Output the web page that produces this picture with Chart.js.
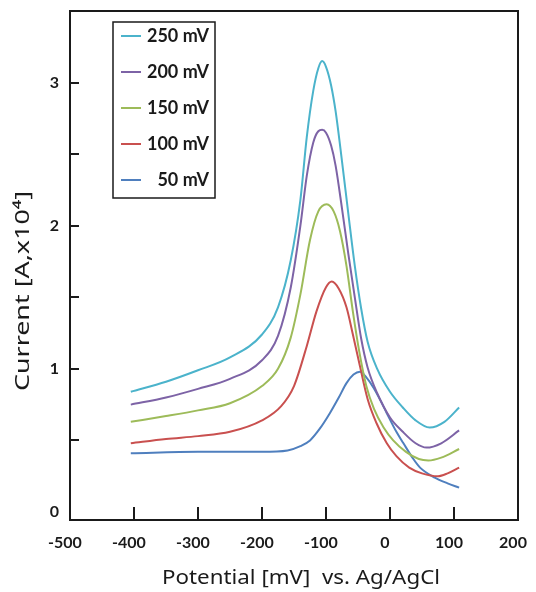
<!DOCTYPE html>
<html>
<head>
<meta charset="utf-8">
<script src="https://cdn.jsdelivr.net/npm/chart.js@4.4.1/dist/chart.umd.min.js"></script>
<style>
  html, body { margin: 0; padding: 0; background: #fff; }
</style>
</head>
<body>
<canvas id="chart" width="536" height="592"></canvas>
<script>
// scan rates, in legend order
const labels = ['250 mV', '200 mV', '150 mV', '100 mV', '50 mV'];
const colors = ['#4bb3cb', '#7d63a6', '#9dbb59', '#c9504f', '#4f7fbe'];

// potential [mV] / current [A x10^4]
const pot250 = [-405, -350, -300, -250, -200, -175, -155, -140, -130, -120, -112, -106, -100, -92, -85, -75, -65, -55, -45, -35, -20, 0, 20, 40, 62, 85, 108];
const cur250 = [0.84, 0.91, 0.99, 1.08, 1.24, 1.43, 1.76, 2.18, 2.62, 2.94, 3.10, 3.15, 3.11, 2.98, 2.80, 2.45, 2.08, 1.72, 1.42, 1.19, 1.00, 0.84, 0.73, 0.64, 0.59, 0.63, 0.73];

const pot200 = [-405, -350, -300, -250, -200, -175, -155, -140, -130, -120, -112, -106, -100, -92, -85, -75, -65, -55, -45, -35, -20, 0, 20, 40, 57, 80, 108];
const cur200 = [0.75, 0.80, 0.86, 0.93, 1.06, 1.23, 1.57, 2.00, 2.35, 2.58, 2.66, 2.67, 2.65, 2.56, 2.42, 2.12, 1.80, 1.50, 1.21, 1.01, 0.83, 0.66, 0.56, 0.48, 0.45, 0.48, 0.57];

const pot150 = [-405, -350, -300, -250, -200, -175, -155, -140, -125, -112, -99, -88, -78, -68, -58, -48, -37, -25, -10, 5, 25, 45, 60, 80, 108];
const cur150 = [0.63, 0.67, 0.71, 0.76, 0.88, 1.00, 1.22, 1.52, 1.90, 2.10, 2.15, 2.10, 1.96, 1.72, 1.40, 1.12, 0.88, 0.72, 0.59, 0.50, 0.42, 0.37, 0.36, 0.38, 0.44];

const pot100 = [-405, -350, -300, -250, -200, -170, -150, -130, -115, -100, -91, -80, -68, -58, -47, -35, -21, -5, 10, 30, 50, 75, 90, 108];
const cur100 = [0.48, 0.51, 0.53, 0.56, 0.64, 0.74, 0.88, 1.16, 1.40, 1.57, 1.61, 1.56, 1.43, 1.24, 1.02, 0.79, 0.62, 0.48, 0.39, 0.31, 0.27, 0.25, 0.27, 0.31];

const pot50 = [-405, -300, -200, -160, -140, -125, -110, -94, -80, -68, -57, -47, -37, -26, -15, -5, 10, 21, 35, 47, 70, 90, 108];
const cur50 = [0.41, 0.42, 0.42, 0.43, 0.46, 0.50, 0.58, 0.69, 0.80, 0.90, 0.96, 0.98, 0.94, 0.87, 0.78, 0.69, 0.56, 0.48, 0.38, 0.31, 0.24, 0.20, 0.17];

const xTicks = [-500, -400, -300, -200, -100, 0, 100, 200];
const yTicks = [0, 1, 2, 3];
const xInner = [-400, -300, -200, -100, 0, 100];
const yInner = [0.5, 1, 1.5, 2, 2.5, 3];

const series = [[pot250, cur250], [pot200, cur200], [pot150, cur150], [pot100, cur100], [pot50, cur50]];

const ink = '#1a1a1a';
const tickFont = { family: 'Lato', size: 16, weight: 'bold' };

// draw text stretched to a given width
function wideText(ctx, text, x, y, width) {
  const w = ctx.measureText(text).width;
  ctx.save();
  ctx.translate(x, y);
  ctx.scale(width / w, 1);
  ctx.fillText(text, 0, 0);
  ctx.restore();
}

// frame, inner tick marks, legend box and axis titles
const decor = {
  id: 'decor',
  afterDraw(chart) {
    const ctx = chart.ctx;
    const a = chart.chartArea;
    const xs = chart.scales.x, ys = chart.scales.y;
    ctx.save();
    ctx.strokeStyle = ink;
    ctx.lineWidth = 2;
    ctx.strokeRect(a.left, a.top, a.right - a.left, a.bottom - a.top);

    ctx.beginPath();
    xInner.forEach(v => {
      const px = Math.round(xs.getPixelForValue(v));
      ctx.moveTo(px, a.bottom);
      ctx.lineTo(px, a.bottom - 13);
    });
    yInner.forEach(v => {
      const py = Math.round(ys.getPixelForValue(v));
      ctx.moveTo(a.left, py);
      ctx.lineTo(a.left + 9, py);
    });
    ctx.stroke();

    // legend
    ctx.lineWidth = 1.5;
    ctx.strokeRect(113, 22, 102, 176);
    ctx.font = 'bold 18px Lato';
    ctx.textAlign = 'right';
    ctx.textBaseline = 'middle';
    chart.data.datasets.forEach((ds, i) => {
      const y = 36 + i * 36;
      ctx.strokeStyle = ds.borderColor;
      ctx.lineWidth = 2;
      ctx.beginPath();
      ctx.moveTo(121, y);
      ctx.lineTo(141, y);
      ctx.stroke();
      ctx.fillStyle = ink;
      ctx.fillText(ds.label, 209, y);
    });

    // axis titles
    ctx.fillStyle = ink;
    ctx.font = '20px "Noto Sans"';
    ctx.textAlign = 'center';
    wideText(ctx, 'Potential [mV]  vs. Ag/AgCl', 301, 578, 278);
    ctx.translate(23, 291);
    ctx.rotate(-Math.PI / 2);
    wideText(ctx, 'Current [A,x10\u2074]', 0, 0, 200);
    ctx.restore();
  }
};

function noPad(s) {
  s.paddingLeft = 0;
  s.paddingRight = 0;
  s.paddingTop = 0;
  s.paddingBottom = 0;
}

new Chart(document.getElementById('chart'), {
  type: 'line',
  data: {
    datasets: series.map((s, i) => ({
      label: labels[i],
      data: s[0].map((x, j) => ({ x: x, y: s[1][j] })),
      borderColor: colors[i],
      borderWidth: 2,
      pointRadius: 0,
      cubicInterpolationMode: 'monotone',
      fill: false
    }))
  },
  options: {
    responsive: false,
    animation: false,
    layout: { padding: { left: 0, top: 11, right: 18, bottom: 0 } },
    plugins: { legend: { display: false }, tooltip: { enabled: false } },
    scales: {
      x: {
        type: 'linear',
        min: -500,
        max: 200,
        afterFit: s => { s.height = 72; noPad(s); },
        afterBuildTicks: s => { s.ticks = xTicks.map(v => ({ value: v })); },
        grid: { display: false, drawTicks: false },
        border: { display: false },
        ticks: { color: ink, font: tickFont, padding: 13, maxRotation: 0, labelOffset: -5 }
      },
      y: {
        min: -0.056,
        max: 3.5,
        afterFit: s => { s.width = 70; noPad(s); },
        afterBuildTicks: s => { s.ticks = yTicks.map(v => ({ value: v })); },
        grid: { display: false, drawTicks: false },
        border: { display: false },
        ticks: { color: ink, font: tickFont, padding: 11 }
      }
    }
  },
  plugins: [decor]
});
</script>
</body>
</html>
